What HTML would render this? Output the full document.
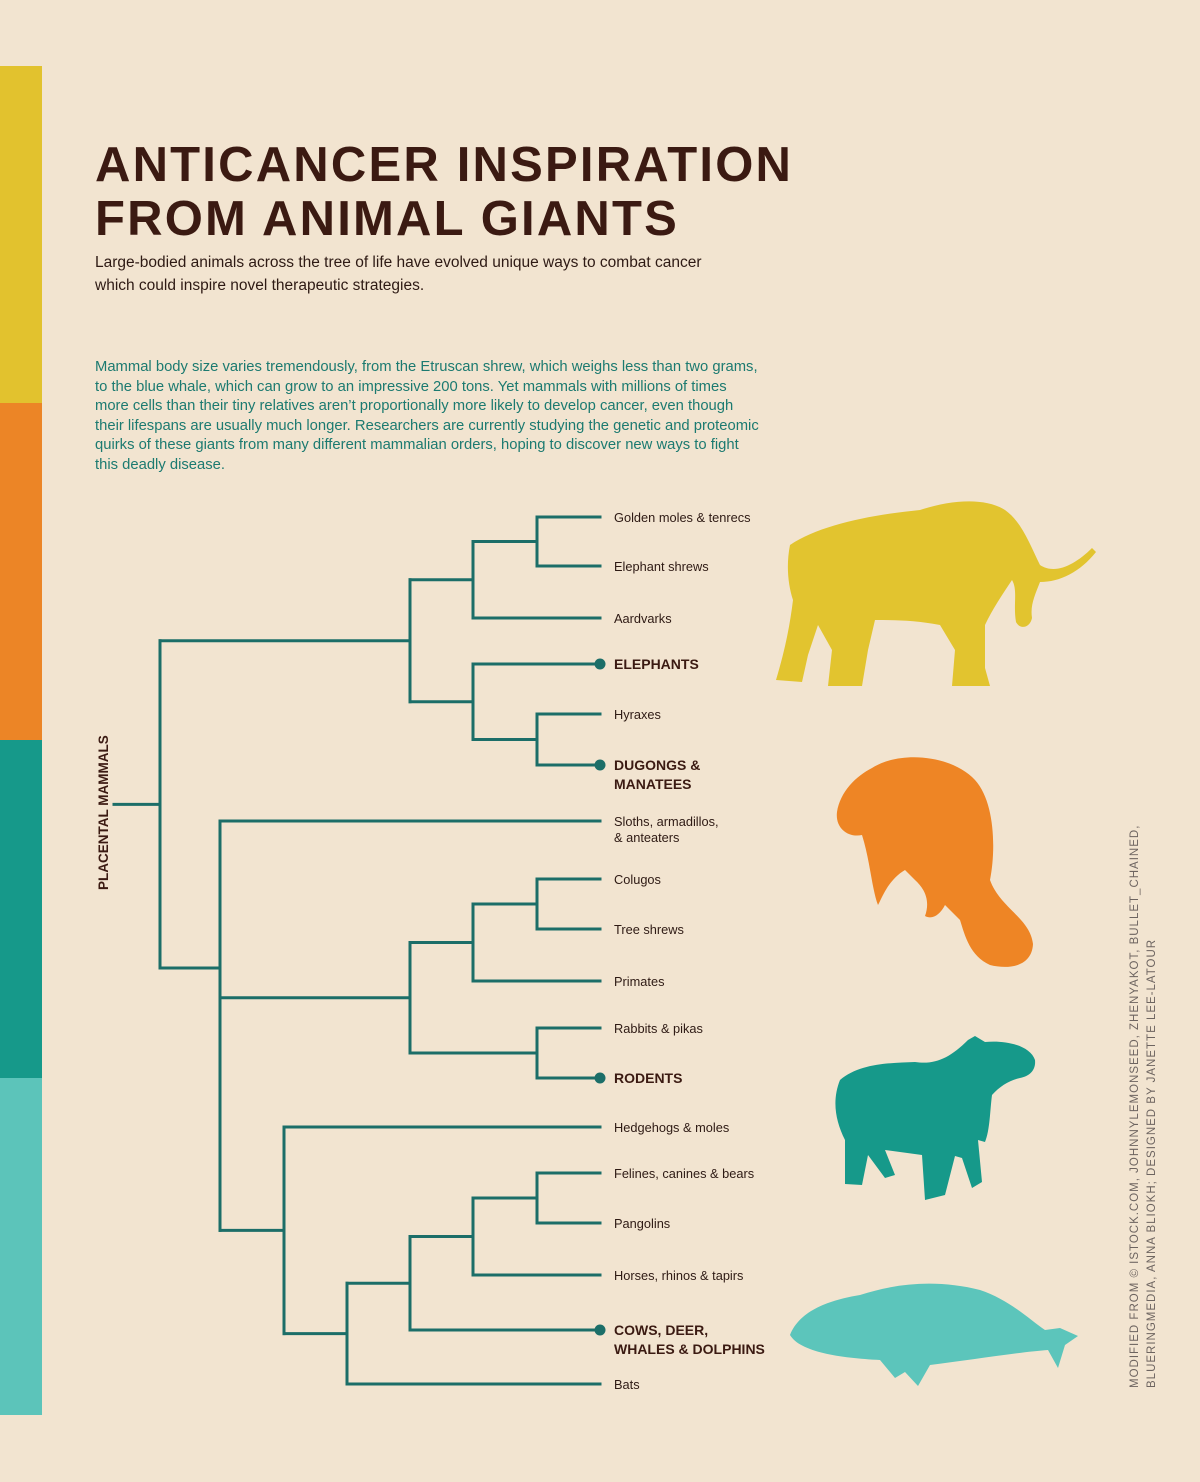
<!DOCTYPE html>
<html><head><meta charset="utf-8">
<style>
html,body{margin:0;padding:0}
body{width:1200px;height:1482px;position:relative;overflow:hidden;background:#f2e4d0;font-family:"Liberation Sans",sans-serif}
.bar{position:absolute;left:0;width:42px}
h1{position:absolute;left:95px;top:138px;margin:0;font-size:49px;line-height:54px;font-weight:bold;color:#3b1a12;letter-spacing:2.2px}
.sub{position:absolute;left:95px;top:251px;font-size:15.5px;line-height:23px;color:#2e1a14;width:635px}
.intro{position:absolute;left:95px;top:358px;font-size:14.8px;line-height:19.6px;color:#1c7a70;width:665px}
</style></head>
<body>
<div class="bar" style="top:66px;height:337px;background:#e2c22e"></div>
<div class="bar" style="top:403px;height:337px;background:#ec8526"></div>
<div class="bar" style="top:740px;height:338px;background:#16998a"></div>
<div class="bar" style="top:1078px;height:337px;background:#5cc4ba"></div>

<h1>ANTICANCER INSPIRATION<br>FROM ANIMAL GIANTS</h1>
<div class="sub">Large-bodied animals across the tree of life have evolved unique ways to combat cancer which could inspire novel therapeutic strategies.</div>
<div class="intro">Mammal body size varies tremendously, from the Etruscan shrew, which weighs less than two grams, to the blue whale, which can grow to an impressive 200 tons. Yet mammals with millions of times more cells than their tiny relatives aren’t proportionally more likely to develop cancer, even though their lifespans are usually much longer. Researchers are currently studying the genetic and proteomic quirks of these giants from many different mammalian orders, hoping to discover new ways to fight this deadly disease.</div>

<svg id="tree" width="1200" height="1482" style="position:absolute;left:0;top:0">
  <text transform="translate(108,890) rotate(-90)" font-family="Liberation Sans" font-weight="bold" font-size="13.5" fill="#3b1a12">PLACENTAL MAMMALS</text>
  <g id="marks"></g>
  <g id="labels"></g>
  <path fill="#e2c42f" d="M790 545 C820 525 870 515 920 510 C950 500 985 497 1005 510 C1022 522 1030 545 1040 565 C1055 575 1075 565 1092 548 L1096 552 C1080 572 1060 582 1040 582 C1035 595 1030 605 1032 618 C1030 628 1020 630 1016 622 C1013 605 1018 590 1012 580 C1002 595 992 610 985 625 L985 668 L990 686 L952 686 L955 650 L940 625 C915 620 895 620 875 620 L868 650 L862 686 L828 686 L832 650 L818 625 L808 655 L802 682 L776 680 C785 650 790 625 793 600 C788 585 786 565 790 545 Z"/>
  <path fill="#ee8525" d="M872 768 C900 750 952 755 975 780 C995 802 996 850 990 880 C1000 908 1030 918 1033 944 C1032 966 1010 970 990 965 C970 956 965 936 960 920 L945 905 C940 915 932 920 925 916 C930 902 926 890 915 880 L905 870 C888 880 882 898 878 905 C872 890 870 860 862 835 C848 838 835 828 837 812 C840 792 856 776 872 768 Z"/>
  <path fill="#16998a" d="M968 1040 L975 1036 L985 1042 C1005 1040 1030 1045 1035 1060 C1036 1070 1030 1076 1020 1078 C1010 1080 1000 1086 992 1095 C990 1110 990 1130 985 1142 L978 1140 L982 1182 L972 1188 L962 1158 L955 1156 L945 1195 L925 1200 L922 1155 L885 1150 L895 1175 L885 1178 L868 1155 L862 1185 L845 1184 L845 1140 C835 1120 832 1100 840 1080 C860 1063 890 1063 915 1062 C935 1065 950 1058 968 1040 Z"/>
  <path fill="#5cc5bb" d="M790 1335 C800 1310 830 1300 860 1295 C900 1282 940 1280 980 1290 C1010 1300 1030 1320 1045 1330 L1060 1328 L1078 1336 L1065 1345 L1058 1368 L1048 1350 C1020 1352 970 1360 930 1365 L918 1386 L905 1372 L895 1378 L880 1360 C840 1358 800 1352 790 1335 Z"/>
  <text transform="translate(1138,1388) rotate(-90)" font-family="Liberation Sans" font-size="11.5" letter-spacing="1" fill="#6d6460">MODIFIED FROM © ISTOCK.COM, JOHNNYLEMONSEED, ZHENYAKOT, BULLET_CHAINED,</text>
  <text transform="translate(1155,1388) rotate(-90)" font-family="Liberation Sans" font-size="11.5" letter-spacing="1" fill="#6d6460">BLUERINGMEDIA, ANNA BLIOKH; DESIGNED BY JANETTE LEE-LATOUR</text>
</svg>

<script>
const leafNames = [["Golden moles & tenrecs"],["Elephant shrews"],["Aardvarks"],["ELEPHANTS"],["Hyraxes"],["DUGONGS &","MANATEES"],["Sloths, armadillos,","& anteaters"],["Colugos"],["Tree shrews"],["Primates"],["Rabbits & pikas"],["RODENTS"],["Hedgehogs & moles"],["Felines, canines & bears"],["Pangolins"],["Horses, rhinos & tapirs"],["COWS, DEER,","WHALES & DOLPHINS"],["Bats"]];
const leafY = [517,566,618,664,714,765,821,879,929,981,1028,1078,1127,1173,1223,1275,1330,1384];
const leafHighlight = [0,0,0,1,0,1,0,0,0,0,0,1,0,0,0,0,1,0];
// topology: [column, children, optional attach y]
const columnX = [160,220,284,347,410,473,537];
const treeRoot = [0,[
  [4,[[5,[[6,[0,1]],2]],[5,[3,[6,[4,5]]]]]],
  [1,[6,
     [4,[[5,[[6,[7,8]],9]],[6,[10,11]]]],
     [2,[12,[3,[[4,[[5,[[6,[13,14]],15]],16]],17]]]]
  ],968]
]];
const leafX = 600, stroke = "#1c6e68";
const NS = "http://www.w3.org/2000/svg";
const marks = document.getElementById('marks');
const labels = document.getElementById('labels');
function line(x1,y1,x2,y2,name){
  const l=document.createElementNS(NS,'line');
  l.setAttribute('x1',x1);l.setAttribute('y1',y1);l.setAttribute('x2',x2);l.setAttribute('y2',y2);
  l.setAttribute('stroke',stroke);l.setAttribute('stroke-width',3);l.setAttribute('stroke-linecap','square');
  
  
  marks.appendChild(l);
}
function layout(node){
  if(typeof node==='number') return {x:leafX,y:leafY[node]};
  const x=columnX[node[0]];
  const kids=node[1].map(layout);
  const ys=kids.map(k=>k.y);
  kids.forEach(k=>line(x,k.y,k.x,k.y,'branch'));
  const top=Math.min(...ys), bot=Math.max(...ys);
  line(x,top,x,bot,'clade-node');
  return {x:x,y:node[2]!==undefined?node[2]:(top+bot)/2};
}
const r=layout(treeRoot);
line(114,r.y,r.x,r.y,'root-stem');
leafNames.forEach((lines,i)=>{
  const hl=leafHighlight[i];
  if(hl){
    const c=document.createElementNS(NS,'circle');
    c.setAttribute('cx',leafX);c.setAttribute('cy',leafY[i]);c.setAttribute('r',5.5);c.setAttribute('fill',stroke);
    
    
    marks.appendChild(c);
  }
  const t=document.createElementNS(NS,'text');
  t.setAttribute('x',614);
  t.setAttribute('y',leafY[i]+5);
  t.setAttribute('font-family','Liberation Sans');
  t.setAttribute('font-size',hl?14:12.8);
  t.setAttribute('font-weight',hl?'bold':'normal');
  t.setAttribute('fill',hl?'#3b1a12':'#2e1a14');
  
  
  lines.forEach((s,j)=>{
    const sp=document.createElementNS(NS,'tspan');
    sp.setAttribute('x',614);
    sp.setAttribute('dy',j===0?0:(hl?19:16));
    sp.textContent=s;
    t.appendChild(sp);
  });
  labels.appendChild(t);
});
</script>
</body></html>
